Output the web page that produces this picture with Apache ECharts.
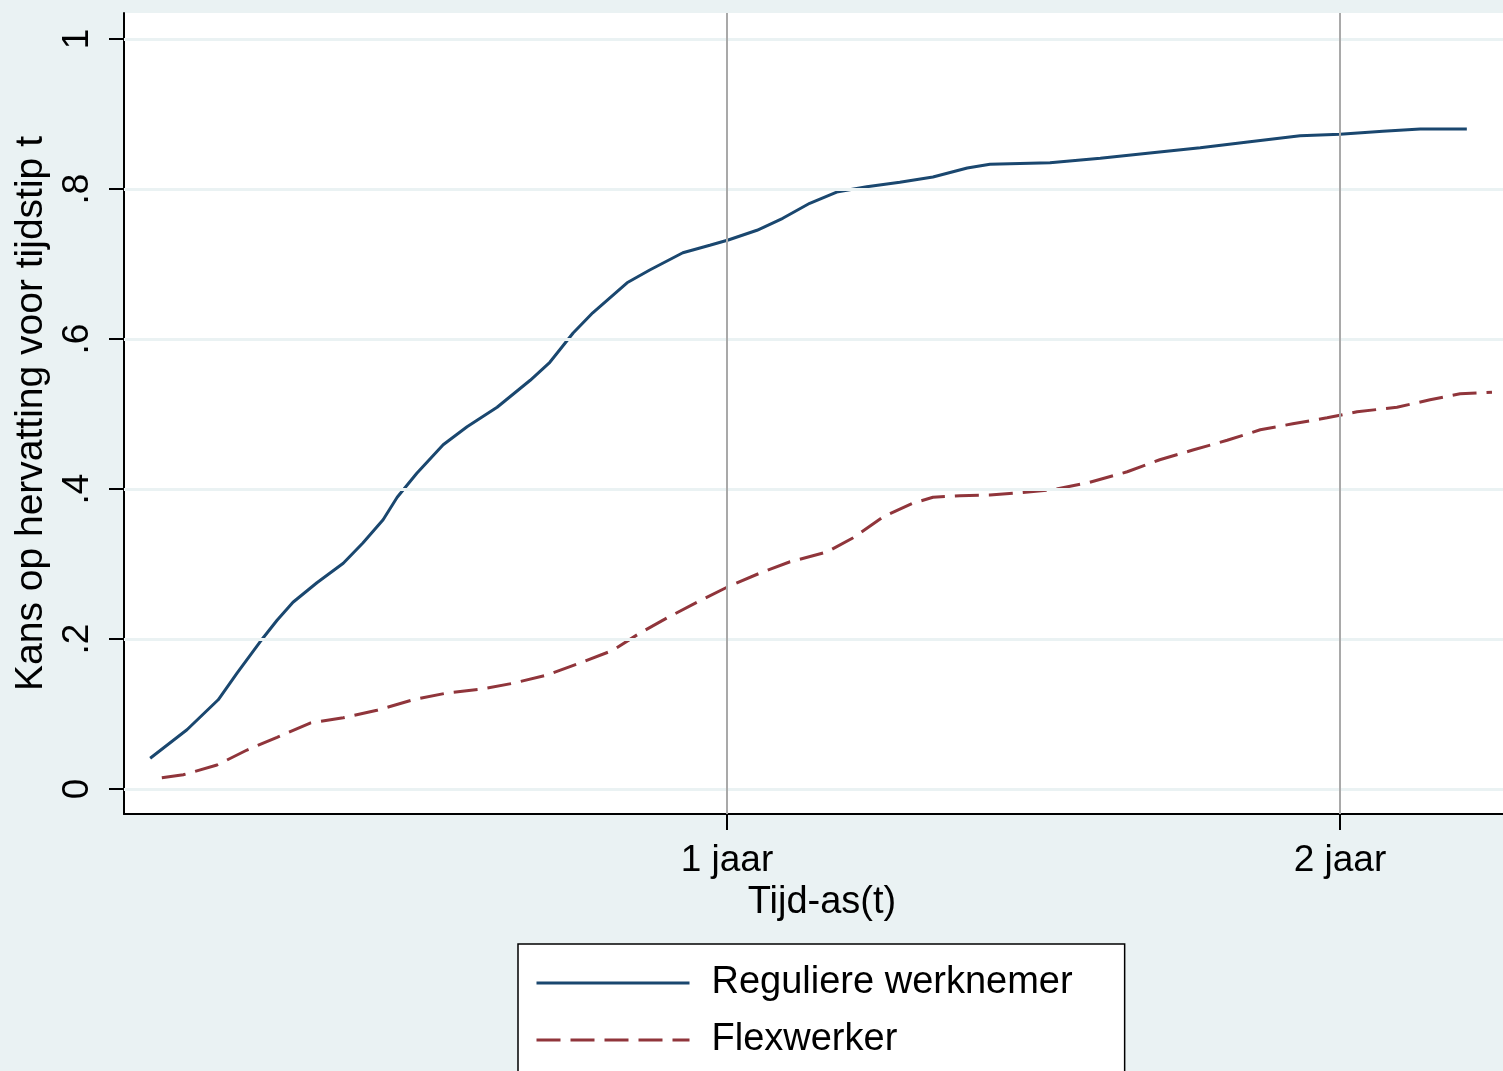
<!DOCTYPE html>
<html>
<head>
<meta charset="utf-8">
<script src="https://cdn.jsdelivr.net/npm/echarts@6/dist/echarts.min.js"></script>
<style>
html,body{margin:0;padding:0;background:#eaf2f3;}
#chart{width:1503px;height:1071px;}
</style>
</head>
<body>
<div id="chart"></div>
<script>
// Time in years, probability of return before time t
var timeRegular = [0.059,0.119,0.170,0.201,0.238,0.266,0.292,0.331,0.374,0.406,0.439,0.462,0.494,0.537,0.576,0.625,0.679,0.711,0.749,0.781,0.837,0.874,0.928,0.972,1.002,1.049,1.091,1.135,1.179,1.228,1.282,1.336,1.392,1.429,1.527,1.609,1.690,1.772,1.853,1.935,2.000,2.070,2.131,2.207];
var probRegular = [0.041,0.079,0.119,0.155,0.196,0.225,0.249,0.275,0.301,0.328,0.359,0.389,0.421,0.459,0.483,0.509,0.545,0.569,0.608,0.635,0.675,0.692,0.715,0.725,0.732,0.745,0.761,0.781,0.796,0.803,0.809,0.816,0.828,0.833,0.835,0.841,0.848,0.855,0.863,0.871,0.873,0.877,0.880,0.880];
var timeFlex = [0.078,0.113,0.168,0.217,0.266,0.320,0.374,0.429,0.488,0.543,0.597,0.651,0.706,0.760,0.814,0.858,0.902,0.951,1.000,1.054,1.103,1.163,1.206,1.255,1.303,1.336,1.380,1.429,1.478,1.532,1.592,1.653,1.706,1.760,1.816,1.870,1.923,1.979,2.028,2.093,2.147,2.196,2.248];
var probFlex = [0.015,0.019,0.032,0.052,0.069,0.088,0.095,0.105,0.119,0.128,0.133,0.141,0.152,0.168,0.185,0.208,0.228,0.249,0.269,0.288,0.303,0.316,0.335,0.363,0.381,0.389,0.391,0.392,0.395,0.399,0.409,0.423,0.439,0.452,0.465,0.479,0.487,0.495,0.503,0.509,0.519,0.527,0.529];
var yTicks = [0, 0.2, 0.4, 0.6, 0.8, 1];
var yTickLabels = ['0', '.2', '.4', '.6', '.8', '1'];
var xTicks = [1, 2];
var xTickLabels = ['1 jaar', '2 jaar'];
var seriesNames = ['Reguliere werknemer', 'Flexwerker'];
var xTitle = 'Tijd-as(t)';
var yTitle = 'Kans op hervatting voor tijdstip t';

function pairs(xs, ys) { return xs.map(function (x, i) { return [x, ys[i]]; }); }

var FONT = '"Liberation Sans", Arial, sans-serif';
var chart = echarts.init(document.getElementById('chart'), null, {renderer: 'canvas'});

var gridMarks = yTicks.map(function (v) {
  return {yAxis: v, lineStyle: {color: '#eaf2f3', width: 3, type: 'solid'}};
}).concat(xTicks.map(function (v) {
  return {xAxis: v, lineStyle: {color: '#a9a9a9', width: 2, type: 'solid'}};
}));

chart.setOption({
  backgroundColor: '#eaf2f3',
  animation: false,
  grid: {left: 124, top: 13, right: 0, bottom: 257, show: true, backgroundColor: '#ffffff', borderWidth: 0},
  xAxis: {
    type: 'value', min: 0.0163, max: 2.266,
    name: xTitle, nameLocation: 'middle', nameGap: 67,
    nameTextStyle: {fontFamily: FONT, fontSize: 38, color: '#000', padding: [0, 0, 0, 17]},
    axisLine: {onZero: false, lineStyle: {color: '#000', width: 2}},
    axisTick: {show: true, length: 16, lineStyle: {color: '#000', width: 2}, customValues: xTicks},
    axisLabel: {customValues: xTicks, margin: 28, fontFamily: FONT, fontSize: 37, color: '#000',
      formatter: function (v) { var i = xTicks.indexOf(v); return i >= 0 ? xTickLabels[i] : ''; }},
    splitLine: {show: false}
  },
  yAxis: {
    type: 'value', min: -0.0333, max: 1.0347,
    name: yTitle, nameLocation: 'middle', nameGap: 70, nameRotate: 90,
    nameTextStyle: {fontFamily: FONT, fontSize: 39, color: '#000'},
    axisLine: {onZero: false, lineStyle: {color: '#000', width: 2}},
    axisTick: {show: true, length: 15, lineStyle: {color: '#000', width: 2}, customValues: yTicks},
    axisLabel: {customValues: yTicks, rotate: 90, margin: 28, fontFamily: FONT, fontSize: 37, color: '#000',
      formatter: function (v) {
        for (var i = 0; i < yTicks.length; i++) { if (Math.abs(yTicks[i] - v) < 1e-6) return yTickLabels[i]; }
        return '';
      }},
    splitLine: {show: false}
  },
  legend: {
    data: seriesNames,
    orient: 'vertical', left: 518, top: 944, height: 400,
    padding: [19, 52, 60, 17],
    itemGap: 17, itemWidth: 153, itemHeight: 12,
    backgroundColor: '#ffffff', borderColor: '#000', borderWidth: 1.5, borderRadius: 0,
    itemStyle: {color: 'rgba(0,0,0,0)', borderColor: 'rgba(0,0,0,0)', borderWidth: 0},
    lineStyle: {width: 3},
    textStyle: {fontFamily: FONT, fontSize: 38, color: '#000', lineHeight: 40, padding: [0, 0, 0, 17]}
  },
  series: [
    {
      name: '_grid', type: 'line', data: [], z: 1, silent: true,
      markLine: {silent: true, symbol: ['none', 'none'], label: {show: false}, animation: false, data: gridMarks}
    },
    {
      name: seriesNames[0], type: 'line', z: 3, symbol: 'none', showSymbol: false,
      data: pairs(timeRegular, probRegular),
      color: '#1a476f',
      lineStyle: {color: '#1a476f', width: 3}
    },
    {
      name: seriesNames[1], type: 'line', z: 3, symbol: 'none', showSymbol: false,
      data: pairs(timeFlex, probFlex),
      color: '#90353b',
      lineStyle: {color: '#90353b', width: 3, type: [24, 10]}
    }
  ]
});
</script>
</body>
</html>
